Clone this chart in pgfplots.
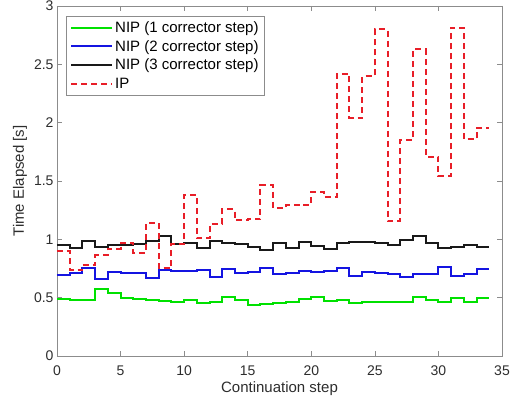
\documentclass[border=0pt]{standalone}
\usepackage{pgfplots}
\pgfplotsset{compat=1.18}
\usepackage{pgfplotstable}
\usepackage{fontspec}
\setmainfont{Liberation Sans}
\definecolor{nipone}{RGB}{0,225,0}
\definecolor{niptwo}{RGB}{20,20,225}
\definecolor{nipthree}{RGB}{25,25,25}
\definecolor{ipred}{RGB}{232,30,40}
\definecolor{axgray}{RGB}{140,140,140}
\definecolor{txgray}{RGB}{45,45,45}

% time per continuation step, held until the next step (stairs)
\pgfplotstableread{
x  nip1  nip2  nip3  ip
0  0.490 0.694 0.951 0.900
1  0.480 0.714 0.923 0.735
2  0.480 0.751 0.988 0.780
3  0.574 0.660 0.937 0.862
4  0.537 0.723 0.951 0.920
5  0.494 0.709 0.951 0.972
6  0.489 0.709 0.960 0.880
7  0.477 0.671 0.988 1.140
8  0.471 0.737 1.031 0.751
9  0.466 0.729 0.957 0.960
10 0.480 0.729 0.966 1.382
11 0.451 0.737 0.923 1.008
12 0.466 0.680 0.985 1.135
13 0.503 0.745 0.966 1.257
14 0.480 0.709 0.957 1.162
15 0.437 0.723 0.937 1.172
16 0.446 0.751 0.906 1.470
17 0.451 0.700 0.966 1.268
18 0.466 0.709 0.929 1.292
19 0.489 0.731 0.980 1.297
20 0.509 0.717 0.946 1.410
21 0.471 0.731 0.920 1.365
22 0.480 0.751 0.966 2.420
23 0.451 0.689 0.974 2.040
24 0.460 0.723 0.980 2.400
25 0.460 0.709 0.966 2.800
26 0.466 0.700 0.951 1.157
27 0.466 0.680 0.994 1.850
28 0.509 0.700 1.031 2.630
29 0.480 0.703 0.966 1.710
30 0.466 0.766 0.929 1.540
31 0.494 0.689 0.937 2.815
32 0.466 0.703 0.951 1.857
33 0.494 0.745 0.937 1.954
34 0.494 0.745 0.937 1.954
}\steps

\begin{document}
\begin{tikzpicture}
\begin{axis}[
  name=ax,
  width=445pt,height=350pt,scale only axis,
  xmin=0,xmax=35,ymin=0,ymax=3,
  xtick={0,5,...,35},ytick={0,0.5,1,1.5,2,2.5,3},
  tick align=inside,major tick length=5pt,
  axis line style={axgray,line width=0.7pt},
  tick style={axgray,line width=0.7pt},
  ticklabel style={font=\fontsize{14}{16}\selectfont,text=txgray},
  /pgf/number format/assume math mode=true,
  xticklabel style={yshift=-6pt},
  label style={font=\fontsize{15}{18}\selectfont,text=txgray},
  xlabel={Continuation step},
  ylabel={Time Elapsed [s]},
  xlabel style={at={(axis description cs:0.5,-0.1057)},anchor=base},
  ylabel style={at={(axis description cs:-0.0831,0.5)},anchor=center},
  legend style={at={(axis description cs:0.0202,0.971)},anchor=north west,
    draw=axgray,font=\fontsize{15}{18}\selectfont,
    row sep=2.5pt,inner xsep=4pt,inner ysep=3pt,
    cells={anchor=west}},
  legend image code/.code={\draw[#1] (0pt,0pt) -- (41pt,0pt);},
]
\addplot[const plot,nipone,line width=2pt] table[x=x,y=nip1] {\steps};
\addlegendentry{NIP (1 corrector step)}
\addplot[const plot,niptwo,line width=2pt] table[x=x,y=nip2] {\steps};
\addlegendentry{NIP (2 corrector step)}
\addplot[const plot,nipthree,line width=2pt] table[x=x,y=nip3] {\steps};
\addlegendentry{NIP (3 corrector step)}
\addplot[const plot,ipred,line width=2pt,dash pattern=on 6pt off 4pt] table[x=x,y=ip] {\steps};
\addlegendentry{IP}
\end{axis}
\path (ax.south west) ++(-57pt,-48pt) coordinate (bbA);
\path (ax.north east) ++(11pt,6pt) coordinate (bbB);
\pgfresetboundingbox
\path (bbA) rectangle (bbB);
\end{tikzpicture}
\end{document}
